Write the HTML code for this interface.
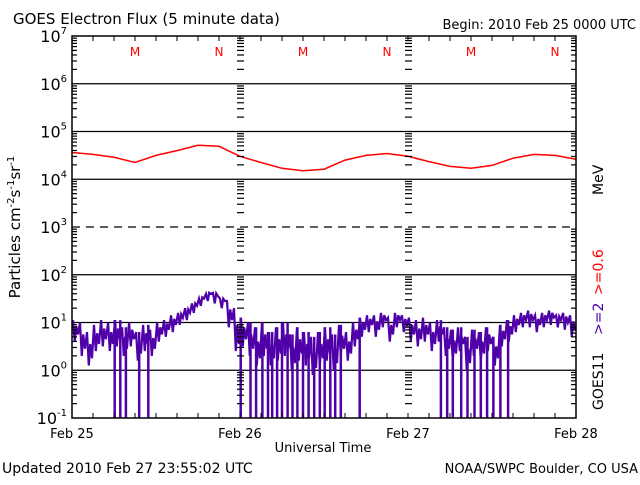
<!DOCTYPE html>
<html><head><meta charset="utf-8"><style>
body{margin:0;background:#fff;width:640px;height:480px;overflow:hidden}
text{font-family:"DejaVu Sans","Liberation Sans",sans-serif}
</style></head><body>
<svg id="chart" width="640" height="480" xmlns="http://www.w3.org/2000/svg">
<rect width="640" height="480" fill="#fff"/>
<text x="13" y="24" font-size="15">GOES Electron Flux (5 minute data)</text>
<text x="636" y="29" font-size="13" text-anchor="end">Begin: 2010 Feb 25 0000 UTC</text>
<text transform="translate(20,227) rotate(-90)" font-size="15" text-anchor="middle">Particles cm<tspan dy="-6" font-size="10">-2</tspan><tspan dy="6">s</tspan><tspan dy="-6" font-size="10">-1</tspan><tspan dy="6">sr</tspan><tspan dy="-6" font-size="10">-1</tspan></text>
<g id="grid"></g>
<g id="series"></g>
<g id="axes"></g>
<text x="323" y="452" font-size="13" text-anchor="middle">Universal Time</text>
<text x="2" y="473" font-size="14">Updated 2010 Feb 27 23:55:02 UTC</text>
<text x="638" y="473" font-size="13" text-anchor="end">NOAA/SWPC Boulder, CO USA</text>
<g transform="translate(603,410) rotate(-90)" font-size="14">
<text x="0" y="0">GOES11</text>
<text x="75" y="0" fill="#5000a8">&gt;=2</text>
<text x="115" y="0" fill="#ff0000">&gt;=0.6</text>
<text x="215" y="0">MeV</text>
</g>
</svg>
<script>
const dayLabels=["Feb 25","Feb 26","Feb 27","Feb 28"];
const decadeExps=[7,6,5,4,3,2,1,0,-1];
const markers=["M","N","M","N","M","N"];
const markerHours=[9,21,33,45,57,69];
// red >=0.6 MeV, log10 flux every 3 hours
const redLog=[4.56,4.52,4.46,4.35,4.50,4.60,4.71,4.69,4.48,4.35,4.23,4.18,4.21,4.40,4.50,4.54,4.48,4.37,4.27,4.23,4.29,4.44,4.52,4.50,4.42];
// purple >=2 MeV, log10 flux hourly max
const purpleLog=[1.05,1.0,0.8,0.95,1.05,1.0,1.05,0.9,1.0,0.8,0.95,0.85,1.0,1.05,1.15,1.2,1.3,1.4,1.5,1.6,1.62,1.5,1.45,1.3,
1.1,1.0,0.9,1.0,0.8,0.9,1.0,0.75,0.9,0.8,0.7,0.8,0.9,0.75,0.95,0.8,1.0,1.1,1.15,1.15,1.2,1.1,1.2,1.15,
1.1,1.05,1.1,1.0,1.05,0.9,0.85,0.9,0.7,0.85,0.8,0.9,0.7,0.95,1.05,1.15,1.2,1.25,1.15,1.2,1.25,1.15,1.2,1.15];
// purple hourly min (log10)
const purpleMin=[0.6,0.3,0.1,0.4,0.5,0.4,0.5,0.3,0.5,0.2,0.4,0.3,0.6,0.7,0.8,0.95,1.05,1.2,1.35,1.45,1.4,1.3,0.9,0.4,
0.5,0.3,0.1,0.3,0.1,0.2,0.3,0.0,0.2,0.1,-0.1,0.1,0.2,0.0,0.3,0.2,0.5,0.7,0.8,0.7,0.9,0.6,0.9,0.8,
0.6,0.5,0.6,0.4,0.6,0.3,0.2,0.4,0.0,0.3,0.2,0.4,0.1,0.5,0.6,0.8,0.9,0.9,0.8,0.9,0.95,0.9,0.85,0.7];
// hours where >=2 MeV flux drops to floor
const dropHours=[6.1,6.9,7.7,9.6,10.9,24.1,25.5,26.3,27.2,28,28.6,29.3,30,30.8,31.5,32.2,33,33.8,34.6,35.4,36.1,36.9,37.6,38.4,41.1,52.7,53.6,54.4,55.6,56.5,57.5,58.4,59.3,60.2,61.2,62.3];
const dropFloor=-1;

const X0=72,X1=576,Y0=36,Y1=418;
const xs=h=>X0+(X1-X0)*h/72;
const ys=e=>Y0+(Y1-Y0)*(7-e)/8;
const NS="http://www.w3.org/2000/svg";
function mk(tag,attrs,parent){const el=document.createElementNS(NS,tag);for(const k in attrs)el.setAttribute(k,attrs[k]);parent.appendChild(el);return el;}
const grid=document.getElementById('grid'),series=document.getElementById('series'),axes=document.getElementById('axes');

decadeExps.forEach(e=>{
  if(e===7||e===-1)return;
  const l=mk('line',{x1:X0,x2:X1,y1:ys(e),y2:ys(e),stroke:'#000','stroke-width':1.3},grid);
  if(e===3)l.setAttribute('stroke-dasharray','8,6');
  
  
});
for(let e=-1;e<7;e++){for(let m=2;m<=9;m++){
  const y=ys(e+Math.log10(m));
  [[X0,X0+5],[X1-5,X1],[xs(24)-3,xs(24)+4],[xs(48)-3,xs(48)+4]].forEach(([a,b])=>mk('line',{x1:a,x2:b,y1:y,y2:y,stroke:'#000','stroke-width':1.2},axes));
}}
const frame=mk('rect',{x:X0,y:Y0,width:X1-X0,height:Y1-Y0,fill:'none',stroke:'#000','stroke-width':1.5},axes);


for(let h=3;h<72;h+=3){
  mk('line',{x1:xs(h),x2:xs(h),y1:Y1,y2:Y1-5,stroke:'#000'},axes);
  mk('line',{x1:xs(h),x2:xs(h),y1:Y0,y2:Y0+5,stroke:'#000'},axes);
}
decadeExps.forEach(e=>{
  const t=mk('text',{x:X0-5,y:ys(e)+6,'font-size':16,'text-anchor':'end'},axes);
  t.innerHTML='10<tspan dy="-8" font-size="10">'+e+'</tspan>';
  
  
});
dayLabels.forEach((d,i)=>{
  const t=mk('text',{x:xs(i*24),y:438,'font-size':13,'text-anchor':'middle'},axes);
  t.textContent=d;
  
  
});
markers.forEach((m,i)=>{
  const t=mk('text',{x:xs(markerHours[i]),y:56,'font-size':12,'text-anchor':'middle',fill:'#ff0000'},axes);
  t.textContent=m;
  
  
});
// purple series: zig-zag between hourly max and min
let d='';
purpleLog.forEach((v,i)=>{
  d+=(i?'L':'M')+xs(i+0.15).toFixed(1)+','+ys(v).toFixed(1);
  d+='L'+xs(i+0.4).toFixed(1)+','+ys(purpleMin[i]).toFixed(1);
  d+='L'+xs(i+0.6).toFixed(1)+','+ys((v+purpleMin[i])/2+0.1).toFixed(1);
  d+='L'+xs(i+0.85).toFixed(1)+','+ys(purpleMin[i]+0.15).toFixed(1);
});
const pp=mk('path',{d:d,fill:'none',stroke:'#5000a8','stroke-width':2.2,'stroke-linejoin':'miter'},series);


dropHours.forEach(h=>{
  const i=Math.min(71,Math.floor(h));
  const l=mk('line',{x1:xs(h),x2:xs(h),y1:ys(purpleLog[i]),y2:ys(dropFloor),stroke:'#5000a8','stroke-width':2.5},series);
  
  
});
let r='';
redLog.forEach((v,i)=>{r+=(i?'L':'M')+xs(i*3).toFixed(1)+','+ys(v).toFixed(1);});
const rp=mk('path',{d:r,fill:'none',stroke:'#ff0000','stroke-width':1.5},series);


</script>
</body></html>
